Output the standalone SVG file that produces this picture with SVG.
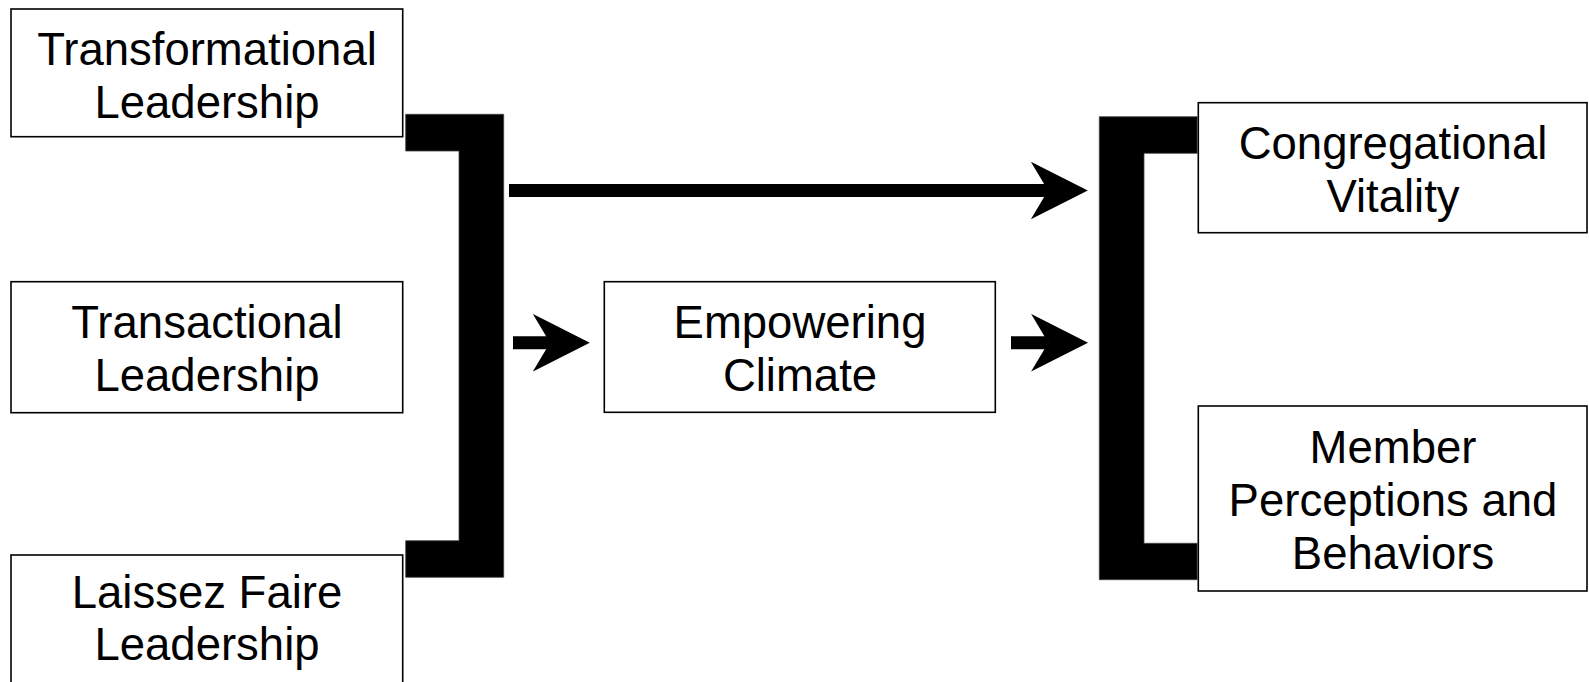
<svg xmlns="http://www.w3.org/2000/svg" width="1589" height="682" viewBox="0 0 1589 682">
<style>
.box{fill:#fff;stroke:#000;stroke-width:1.6}
.lbl{font-family:"Liberation Sans",Arial,sans-serif;font-size:45.5px;fill:#000;text-anchor:middle}
.brk{fill:#000;stroke:#444;stroke-width:0.8}
.conn{stroke:#000;stroke-width:13;fill:none}
</style>
<defs>
<marker id="ah" markerUnits="userSpaceOnUse" markerWidth="57" markerHeight="57.6" viewBox="0 0 57 57.6" refX="17.2" refY="28.8" orient="auto">
<path d="M0,0 L57,28.8 L0,57.6 L17.2,28.8 Z" fill="#000"/>
</marker>
</defs>
<rect width="1589" height="682" fill="#fff"/>
<g id="transformational">
<rect class="box" x="11" y="9" width="391.7" height="127.7"/>
<text class="lbl" x="207" y="65">Transformational</text>
<text class="lbl" x="207" y="118">Leadership</text>
</g>
<g id="transactional">
<rect class="box" x="11" y="281.7" width="391.7" height="131"/>
<text class="lbl" x="207" y="338">Transactional</text>
<text class="lbl" x="207" y="391">Leadership</text>
</g>
<g id="laissez">
<rect class="box" x="11" y="555" width="391.7" height="140"/>
<text class="lbl" x="207" y="608">Laissez Faire</text>
<text class="lbl" x="207" y="660">Leadership</text>
</g>
<g id="empowering">
<rect class="box" x="604.3" y="281.7" width="391" height="130.6"/>
<text class="lbl" x="800" y="338">Empowering</text>
<text class="lbl" x="800" y="391">Climate</text>
</g>
<g id="vitality">
<rect class="box" x="1198.3" y="102.7" width="388.7" height="130"/>
<text class="lbl" x="1393" y="159">Congregational</text>
<text class="lbl" x="1393" y="212">Vitality</text>
</g>
<g id="member">
<rect class="box" x="1198.3" y="406" width="388.7" height="185"/>
<text class="lbl" x="1393" y="463">Member</text>
<text class="lbl" x="1393" y="516">Perceptions and</text>
<text class="lbl" x="1393" y="569">Behaviors</text>
</g>
<g id="connectors">
<polygon class="brk" points="405.7,114.3 503.7,114.3 503.7,577.3 405.7,577.3 405.7,540.7 459,540.7 459,151 405.7,151"/>
<polygon class="brk" points="1197.3,116.7 1099.3,116.7 1099.3,579.7 1197.3,579.7 1197.3,543.3 1144,543.3 1144,153.3 1197.3,153.3"/>
<path class="conn" d="M509,190.5 H1048" marker-end="url(#ah)"/>
<path class="conn" d="M513,342.7 H550" marker-end="url(#ah)"/>
<path class="conn" d="M1011,342.7 H1048.3" marker-end="url(#ah)"/>
</g>
</svg>
